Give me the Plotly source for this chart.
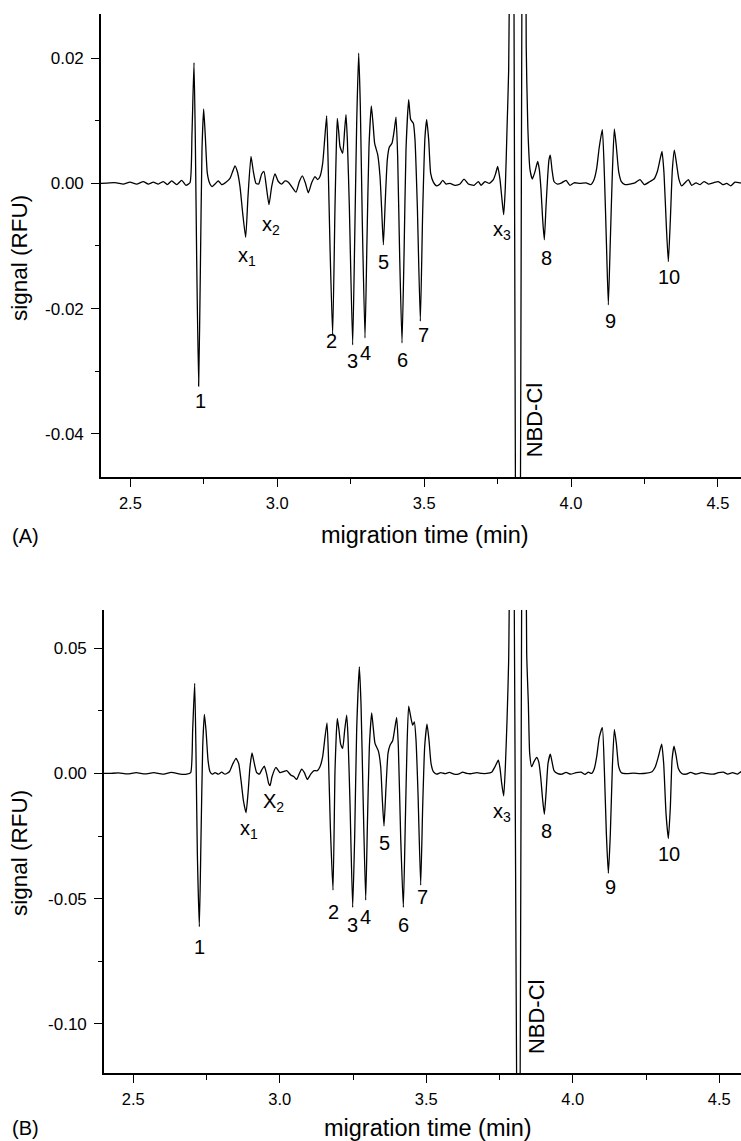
import plotly.graph_objects as go

# ---------------- Panel A data (migration time in min, signal in RFU) ----------------
time_a = [2.400, 2.430, 2.4534, 2.4760, 2.4987, 2.5215, 2.5440, 2.5610, 2.5781, 2.5951,
          2.6121, 2.6257, 2.6407, 2.6577, 2.6747, 2.6894,
          2.7029, 2.7098, 2.7166, 2.7211, 2.7256, 2.7324, 2.7381, 2.7438, 2.7495, 2.7551,
          2.7620, 2.7710, 2.7778, 2.7881, 2.7994, 2.8107, 2.8255, 2.8391, 2.8482, 2.8561,
          2.8641, 2.8732, 2.8822, 2.8925, 2.9004, 2.9106, 2.9186, 2.9276, 2.9367, 2.9469,
          2.9549, 2.9628, 2.9719, 2.9810, 2.9923, 3.0037, 3.0150, 3.0264, 3.0377, 3.0491,
          3.0638, 3.0752, 3.0854, 3.0956, 3.1058, 3.1171, 3.1285, 3.1376, 3.1455, 3.1546,
          3.1614, 3.1682, 3.1727, 3.1796, 3.1886,
          3.1966, 3.2011, 3.2045, 3.2091, 3.2136, 3.2227, 3.2295, 3.2340, 3.2386, 3.2454,
          3.2567, 3.2636, 3.2704, 3.2772, 3.2828, 3.2896, 3.2987, 3.3055, 3.3123, 3.3203,
          3.3260, 3.3316, 3.3419, 3.3498, 3.3555, 3.3612, 3.3679, 3.3747, 3.3816, 3.3906,
          3.3986, 3.4043, 3.4099, 3.4167, 3.4247, 3.4315, 3.4383, 3.4474, 3.4542, 3.4633,
          3.4689, 3.4769, 3.4871, 3.4950, 3.5030, 3.5087, 3.5155, 3.5223, 3.5314, 3.5427,
          3.5541, 3.5632, 3.5745, 3.5881, 3.6051, 3.6222, 3.6358, 3.6505, 3.6698, 3.6846,
          3.6936, 3.7073, 3.7220, 3.7356, 3.7436, 3.7504, 3.7583, 3.7651, 3.7708, 3.7765,
          3.7821, 3.7878, 3.7915, 3.7990, 3.8195, 3.8395, 3.8475, 3.8530,
          3.8604, 3.8684, 3.8775, 3.8865, 3.8922, 3.8979, 3.9036, 3.9092, 3.9149, 3.9206,
          3.9251, 3.9296, 3.9353, 3.9421, 3.9535, 3.9682, 3.9830, 3.9966, 4.0102, 4.0307,
          4.0511, 4.0670, 4.0783, 4.0874, 4.0965, 4.1067, 4.1135, 4.1203, 4.1271, 4.1339,
          4.1407, 4.1475, 4.1543, 4.1623, 4.1714, 4.1839, 4.2009, 4.2179, 4.2349, 4.2497,
          4.2690, 4.2826, 4.2939, 4.3030, 4.3098, 4.3166, 4.3246, 4.3314, 4.3382, 4.3450,
          4.3518, 4.3597, 4.3677, 4.3768, 4.3881, 4.3995, 4.4108, 4.4256, 4.4392, 4.4528,
          4.4676, 4.4846, 4.5016, 4.5164, 4.5300, 4.5436, 4.5583, 4.5754, 4.6000]
signal_a = [0.0000, 0.0001, 0.0001, -0.0001, 0.0002, -0.0001, 0.0003, -0.0001, 0.0002, -0.0001,
            0.0003, -0.0002, 0.0004, -0.0002, 0.0005, -0.0003,
            0.0001, 0.0080, 0.0193, 0.0070, -0.0116, -0.0324, -0.0143, 0.0054, 0.0119, 0.0075,
            0.0016, -0.0001, -0.0005, -0.0001, 0.0004, -0.0002, 0.0002, 0.0008, 0.0019, 0.0028,
            0.0019, -0.0005, -0.0047, -0.0086, -0.0021, 0.0043, 0.0019, 0.0000, -0.0001, 0.0015,
            0.0019, -0.0005, -0.0034, -0.0005, 0.0015, 0.0003, -0.0001, 0.0004, 0.0002, -0.0005,
            -0.0014, 0.0003, 0.0012, 0.0001, -0.0015, 0.0001, 0.0011, 0.0006, 0.0011, 0.0032,
            0.0070, 0.0108, 0.0043, -0.0101, -0.0242,
            -0.0037, 0.0059, 0.0104, 0.0083, 0.0059, 0.0048, 0.0086, 0.0110, 0.0070, -0.0037,
            -0.0258, -0.0090, 0.0096, 0.0208, 0.0123, -0.0063, -0.0247, -0.0090, 0.0059, 0.0124,
            0.0096, 0.0064, 0.0046, 0.0011, -0.0042, -0.0098, -0.0026, 0.0038, 0.0058, 0.0064,
            0.0086, 0.0106, 0.0043, -0.0116, -0.0255, -0.0116, 0.0054, 0.0134, 0.0102, 0.0096,
            0.0070, -0.0037, -0.0220, -0.0047, 0.0075, 0.0102, 0.0070, 0.0016, 0.0002, -0.0004,
            -0.0001, 0.0005, -0.0001, 0.0000, -0.0003, -0.0001, 0.0007, -0.0001, -0.0003, 0.0003,
            -0.0003, 0.0003, 0.0000, 0.0006, 0.0016, 0.0027, 0.0006, -0.0026, -0.0050, -0.0005,
            0.0086, 0.0181, 0.0400, 0.1200, -0.1600, 0.1200, 0.0220, 0.0090,
            0.0022, 0.0007, 0.0019, 0.0035, 0.0022, -0.0010, -0.0058, -0.0090, -0.0037, 0.0011,
            0.0038, 0.0045, 0.0022, 0.0003, -0.0001, 0.0001, 0.0005, -0.0003, 0.0001, 0.0000,
            0.0001, -0.0002, 0.0006, 0.0024, 0.0059, 0.0086, 0.0016, -0.0090, -0.0194, -0.0090,
            0.0016, 0.0087, 0.0059, 0.0019, 0.0003, -0.0002, -0.0001, 0.0001, 0.0006, -0.0002,
            0.0003, 0.0007, 0.0019, 0.0038, 0.0051, 0.0016, -0.0069, -0.0125, -0.0058, 0.0022,
            0.0053, 0.0030, 0.0006, -0.0004, 0.0001, 0.0006, -0.0003, 0.0001, -0.0002, 0.0003,
            -0.0001, 0.0001, 0.0003, -0.0002, 0.0000, -0.0004, 0.0002, 0.0001, 0.0000]

# ---------------- Panel B data ----------------
time_b = [2.400, 2.420, 2.450, 2.480, 2.510, 2.540, 2.570, 2.600, 2.630, 2.660, 2.6821,
          2.6958, 2.7026, 2.7095, 2.7140, 2.7186, 2.7254, 2.7311, 2.7368, 2.7425, 2.7481,
          2.7550, 2.7618, 2.7698, 2.7788, 2.7902, 2.8016, 2.8130, 2.8278, 2.8391, 2.8505,
          2.8596, 2.8676, 2.8756, 2.8847, 2.8915, 2.8983, 2.9052, 2.9120, 2.9211, 2.9302,
          2.9393, 2.9472, 2.9552, 2.9620, 2.9666, 2.9734, 2.9870, 3.0007, 3.0121, 3.0235,
          3.0371, 3.0485, 3.0575, 3.0667, 3.0746, 3.0838, 3.0940, 3.1054, 3.1167, 3.1281,
          3.1371, 3.1463, 3.1543, 3.1611, 3.1657, 3.1725, 3.1816,
          3.1884, 3.1929, 3.1964, 3.2020, 3.2077, 3.2146, 3.2214, 3.2282, 3.2328, 3.2396,
          3.2487, 3.2555, 3.2623, 3.2714, 3.2771, 3.2840, 3.2931, 3.2988, 3.3056, 3.3136,
          3.3192, 3.3249, 3.3363, 3.3443, 3.3500, 3.3556, 3.3625, 3.3693, 3.3761, 3.3852,
          3.3932, 3.3989, 3.4046, 3.4125, 3.4216, 3.4285, 3.4341, 3.4398, 3.4478, 3.4535,
          3.4592, 3.4649, 3.4717, 3.4808, 3.4876, 3.4944, 3.5024, 3.5092, 3.5161, 3.5240,
          3.5354, 3.5491, 3.5639, 3.5786, 3.5946, 3.6094, 3.6242, 3.6378, 3.6549, 3.6719,
          3.6890, 3.7061, 3.7231, 3.7345, 3.7459, 3.7516, 3.7573, 3.7641, 3.7698, 3.7755,
          3.7811, 3.7931, 3.8153, 3.8313, 3.8426, 3.8483, 3.8528,
          3.8596, 3.8676, 3.8767, 3.8835, 3.8903, 3.8972, 3.9029, 3.9086, 3.9154, 3.9233,
          3.9290, 3.9359, 3.9472, 3.9620, 3.9768, 3.9927, 4.0109, 4.0280, 4.0417, 4.0530,
          4.0644, 4.0735, 4.0815, 4.0906, 4.1008, 4.1077, 4.1145, 4.1213, 4.1281, 4.1350,
          4.1418, 4.1486, 4.1566, 4.1657, 4.1839, 4.2066, 4.2294, 4.2521, 4.2703, 4.2817,
          4.2920, 4.3033, 4.3101, 4.3181, 4.3261, 4.3329, 4.3386, 4.3454, 4.3522, 4.3602,
          4.3716, 4.3864, 4.4023, 4.4205, 4.4399, 4.4592, 4.4797, 4.4967, 4.5138, 4.5286,
          4.5457, 4.5616, 4.5741, 4.6000]
signal_b = [0.0000, 0.0000, 0.0002, -0.0002, 0.0003, -0.0002, 0.0003, -0.0003, 0.0004, -0.0003, -0.0003,
            0.0003, 0.0173, 0.0360, 0.0080, -0.0320, -0.0612, -0.0253, 0.0106, 0.0236, 0.0173,
            0.0053, 0.0007, -0.0003, 0.0003, -0.0003, 0.0005, -0.0003, 0.0007, 0.0037, 0.0060,
            0.0040, -0.0027, -0.0107, -0.0157, -0.0080, 0.0027, 0.0082, 0.0046, 0.0003, -0.0003,
            0.0016, 0.0029, -0.0003, -0.0040, -0.0049, -0.0013, 0.0024, 0.0003, 0.0007, 0.0011,
            -0.0006, -0.0013, -0.0024, 0.0000, 0.0017, 0.0003, -0.0024, -0.0003, 0.0011, 0.0011,
            0.0027, 0.0067, 0.0146, 0.0202, 0.0080, -0.0213, -0.0466,
            0.0013, 0.0160, 0.0220, 0.0173, 0.0117, 0.0100, 0.0173, 0.0233, 0.0146, -0.0120,
            -0.0535, -0.0253, 0.0173, 0.0426, 0.0279, -0.0080, -0.0506, -0.0213, 0.0106, 0.0242,
            0.0180, 0.0120, 0.0090, 0.0027, -0.0107, -0.0210, -0.0053, 0.0080, 0.0113, 0.0131,
            0.0186, 0.0224, 0.0106, -0.0253, -0.0535, -0.0187, 0.0106, 0.0269, 0.0220, 0.0193,
            0.0206, 0.0133, -0.0080, -0.0446, -0.0133, 0.0106, 0.0197, 0.0133, 0.0040, 0.0007,
            -0.0003, 0.0003, -0.0001, 0.0004, -0.0003, -0.0003, 0.0005, 0.0000, -0.0001, 0.0003,
            0.0000, 0.0000, 0.0005, 0.0027, 0.0053, 0.0020, -0.0040, -0.0090, 0.0027, 0.0213,
            0.0453, 0.2000, -0.2600, 0.2500, 0.0479, 0.0279, 0.0080,
            0.0027, 0.0047, 0.0064, 0.0047, -0.0013, -0.0107, -0.0163, -0.0080, 0.0040, 0.0077,
            0.0047, 0.0011, 0.0000, -0.0003, 0.0004, -0.0003, 0.0003, 0.0005, -0.0004, 0.0005,
            0.0000, 0.0020, 0.0067, 0.0146, 0.0183, 0.0013, -0.0240, -0.0399, -0.0240, 0.0027,
            0.0176, 0.0120, 0.0027, 0.0003, -0.0001, 0.0001, -0.0001, 0.0001, 0.0007, 0.0027,
            0.0067, 0.0117, 0.0040, -0.0160, -0.0260, -0.0133, 0.0053, 0.0109, 0.0073, 0.0020,
            0.0000, -0.0003, 0.0004, -0.0003, 0.0003, -0.0001, -0.0003, 0.0003, 0.0005, -0.0003,
            0.0003, -0.0003, 0.0007, 0.0000]

# ---------------- Peak labels ----------------
labels_a = ["1", "x<sub>1</sub>", "x<sub>2</sub>", "2", "3", "4", "5", "6", "7",
            "x<sub>3</sub>", "8", "9", "10"]
label_time_a = [2.7401, 2.8987, 2.9794, 3.1853, 3.2568, 3.2987, 3.3611, 3.4257, 3.4972,
                3.7660, 3.9172, 4.1348, 4.3347]
label_signal_a = [-0.0348, -0.0116, -0.0067, -0.0252, -0.0284, -0.0271, -0.0126, -0.0282,
                  -0.0243, -0.0075, -0.0119, -0.0220, -0.0150]

labels_b = ["1", "x<sub>1</sub>", "X<sub>2</sub>", "2", "3", "4", "5", "6", "7",
            "x<sub>3</sub>", "8", "9", "10"]
label_time_b = [2.7273, 2.8949, 2.9768, 3.1826, 3.2488, 3.2908, 3.3590, 3.4215, 3.4874,
                3.7584, 3.9109, 4.1270, 4.3294]
label_signal_b = [-0.0692, -0.0224, -0.0117, -0.0553, -0.0606, -0.0573, -0.0277, -0.0606,
                  -0.0493, -0.0157, -0.0229, -0.0453, -0.0320]

reagent_label = "NBD-Cl"
reagent_pos_a = (3.874, -0.0377)
reagent_pos_b = (3.8764, -0.0971)

# ---------------- Axis ticks ----------------
x_tickvals = [2.5, 3.0, 3.5, 4.0, 4.5]
x_ticktext = ["2.5", "3.0", "3.5", "4.0", "4.5"]
x_minor = [2.75, 3.25, 3.75, 4.25]
ya_tickvals = [-0.04, -0.02, 0.0, 0.02]
ya_ticktext = ["-0.04", "-0.02", "0.00", "0.02"]
ya_minor = [-0.03, -0.01, 0.01]
yb_tickvals = [-0.10, -0.05, 0.0, 0.05]
yb_ticktext = ["-0.10", "-0.05", "0.00", "0.05"]
yb_minor = [-0.075, -0.025, 0.025]

W, H = 741, 1141
FONT = "Liberation Sans"

fig = go.Figure()
fig.add_trace(go.Scatter(x=time_a, y=signal_a, mode="lines",
                         line=dict(color="black", width=1.3, shape="spline", smoothing=0.5),
                         xaxis="x", yaxis="y", showlegend=False))
fig.add_trace(go.Scatter(x=time_b, y=signal_b, mode="lines",
                         line=dict(color="black", width=1.3, shape="spline", smoothing=0.5),
                         xaxis="x2", yaxis="y2", showlegend=False))


def xaxis_style(domain, rng, anchor):
    return dict(domain=domain, range=rng, anchor=anchor, showline=True, linecolor="black",
                linewidth=1.6, ticks="outside", ticklen=8, tickwidth=1.4, tickcolor="black",
                tickvals=x_tickvals, ticktext=x_ticktext, tickfont=dict(size=16.5, color="black"),
                showgrid=False, zeroline=False, ticklabelstandoff=2,
                minor=dict(tickvals=x_minor, ticks="outside", ticklen=4.5, tickwidth=1.2,
                           tickcolor="black", showgrid=False))


def yaxis_style(domain, rng, anchor, tv, tt, mv):
    return dict(domain=domain, range=rng, anchor=anchor, showline=True, linecolor="black",
                linewidth=1.6, ticks="outside", ticklen=8, tickwidth=1.4, tickcolor="black",
                tickvals=tv, ticktext=tt, tickfont=dict(size=17, color="black"),
                showgrid=False, zeroline=False, ticklabelstandoff=4,
                minor=dict(tickvals=mv, ticks="outside", ticklen=4.5, tickwidth=1.2,
                           tickcolor="black", showgrid=False))


annotations = []
for txt, t, s in zip(labels_a, label_time_a, label_signal_a):
    annotations.append(dict(x=t, y=s, xref="x", yref="y", text=txt, showarrow=False,
                            xanchor="center", yanchor="middle",
                            font=dict(size=20, family=FONT, color="black")))
for txt, t, s in zip(labels_b, label_time_b, label_signal_b):
    annotations.append(dict(x=t, y=s, xref="x2", yref="y2", text=txt, showarrow=False,
                            xanchor="center", yanchor="middle",
                            font=dict(size=20, family=FONT, color="black")))
annotations.append(dict(x=reagent_pos_a[0], y=reagent_pos_a[1], xref="x", yref="y",
                        text=reagent_label, textangle=-90, showarrow=False,
                        font=dict(size=22, family=FONT, color="black")))
annotations.append(dict(x=reagent_pos_b[0], y=reagent_pos_b[1], xref="x2", yref="y2",
                        text=reagent_label, textangle=-90, showarrow=False,
                        font=dict(size=22, family=FONT, color="black")))

# axis titles and panel tags (paper coordinates)
def P(px, py):
    return px / W, 1 - py / H

for (px, py, txt, ang, size) in [
        (19, 258, "signal (RFU)", -90, 22.5),
        (425, 535, "migration time (min)", 0, 23.5),
        (25, 536, "(A)", 0, 20),
        (19, 853, "signal (RFU)", -90, 22.5),
        (428, 1128, "migration time (min)", 0, 23.5),
        (25, 1128, "(B)", 0, 20)]:
    xp, yp = P(px, py)
    annotations.append(dict(x=xp, y=yp, xref="paper", yref="paper", text=txt,
                            textangle=ang, showarrow=False, xanchor="center",
                            yanchor="middle", font=dict(size=size, family=FONT, color="black")))

fig.update_layout(
    width=W, height=H, margin=dict(l=0, r=0, t=0, b=0),
    paper_bgcolor="white", plot_bgcolor="white",
    font=dict(family=FONT, color="black"),
    xaxis=xaxis_style([101 / W, 1.0], [2.4, 4.5787], "y"),
    yaxis=yaxis_style([1 - 477.3 / H, 1 - 14 / H], [-0.04696, 0.02707], "x",
                      ya_tickvals, ya_ticktext, ya_minor),
    xaxis2=xaxis_style([104 / W, 1.0], [2.4, 4.574], "y2"),
    yaxis2=yaxis_style([1 - 1073.3 / H, 1 - 610 / H], [-0.1198, 0.0653], "x2",
                       yb_tickvals, yb_ticktext, yb_minor),
    annotations=annotations,
    showlegend=False,
)

fig.write_html("out.html", config={"displayModeBar": False},
               post_script="document.body.style.margin='0';document.body.style.overflow='hidden';")
